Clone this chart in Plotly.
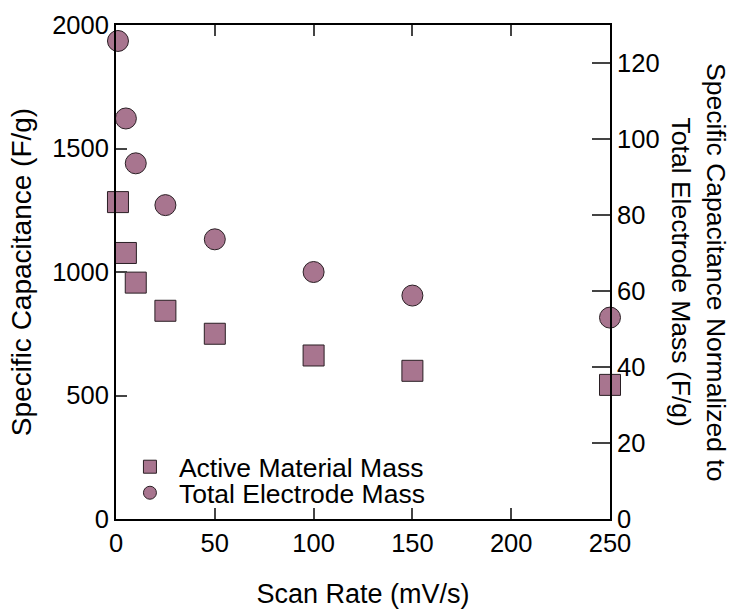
import plotly.graph_objects as go

scan_rate = [1, 5, 10, 25, 50, 100, 150, 250]
active_mass = [1283, 1077, 957, 843, 750, 662, 600, 543]
total_mass = [125.8, 105.4, 93.6, 82.6, 73.6, 65.0, 58.8, 53.0]

left_ticks = [0, 500, 1000, 1500, 2000]
right_ticks = [0, 20, 40, 60, 80, 100, 120]
x_ticks = [0, 50, 100, 150, 200, 250]

FILL = "#a8758f"
EDGE = "#2a1f24"
FONT = "Liberation Sans, Arial, Helvetica, sans-serif"
FS = 25.5

fig = go.Figure()
fig.add_trace(go.Scatter(
    x=scan_rate, y=active_mass, mode="markers", showlegend=False,
    marker=dict(symbol="square", size=21, color=FILL, line=dict(color=EDGE, width=1)),
    cliponaxis=False, yaxis="y"))
fig.add_trace(go.Scatter(
    x=scan_rate, y=total_mass, mode="markers", showlegend=False,
    marker=dict(symbol="circle", size=21, color=FILL, line=dict(color=EDGE, width=1)),
    cliponaxis=False, yaxis="y2"))
# legend entries
fig.add_trace(go.Scatter(
    x=[None], y=[None], mode="markers", name="Active Material Mass", legend="legend",
    marker=dict(symbol="square", size=13, color=FILL, line=dict(color=EDGE, width=1))))
fig.add_trace(go.Scatter(
    x=[None], y=[None], mode="markers", name="Total Electrode Mass", legend="legend2",
    marker=dict(symbol="circle", size=13, color=FILL, line=dict(color=EDGE, width=1))))

leg_common = dict(x=0.010, xanchor="left", yanchor="middle",
                  bgcolor="rgba(0,0,0,0)", font=dict(family=FONT, size=26.5, color="black"),
                  itemsizing="trace", itemwidth=48)

fig.update_layout(
    width=731, height=609,
    margin=dict(l=116, r=121, t=25, b=90),
    paper_bgcolor="white", plot_bgcolor="white",
    font=dict(family=FONT, size=FS, color="black"),
    showlegend=True,
    legend=dict(y=0.1053, **leg_common),
    legend2=dict(y=0.0526, **leg_common),
    xaxis=dict(range=[0, 250], tickvals=x_ticks, ticks="inside", ticklen=11, tickwidth=2,
               showline=True, linewidth=2, linecolor="black", mirror="ticks",
               showgrid=False, zeroline=False, automargin=False,
               title=dict(text="Scan Rate (mV/s)", standoff=36, font=dict(size=27))),
    yaxis=dict(range=[0, 2000], tickvals=left_ticks, ticks="inside", ticklen=11, tickwidth=2,
               showline=True, linewidth=2, linecolor="black",
               showgrid=False, zeroline=False, automargin=False,
               title=dict(text="Specific Capacitance (F/g)", standoff=12, font=dict(size=28))),
    yaxis2=dict(range=[0, 130], tickvals=right_ticks, ticks="inside", ticklen=18, tickwidth=2,
                overlaying="y", side="right", automargin=False,
                showline=True, linewidth=2, linecolor="black",
                showgrid=False, zeroline=False),
    annotations=[dict(
        text="Specific Capacitance Normalized to<br>Total Electrode Mass (F/g)",
        textangle=90, xref="paper", yref="paper", x=1.18, y=0.5,
        xanchor="center", yanchor="middle", showarrow=False,
        font=dict(family=FONT, size=26.5, color="black"))],
)

fig.write_html("out.html")
